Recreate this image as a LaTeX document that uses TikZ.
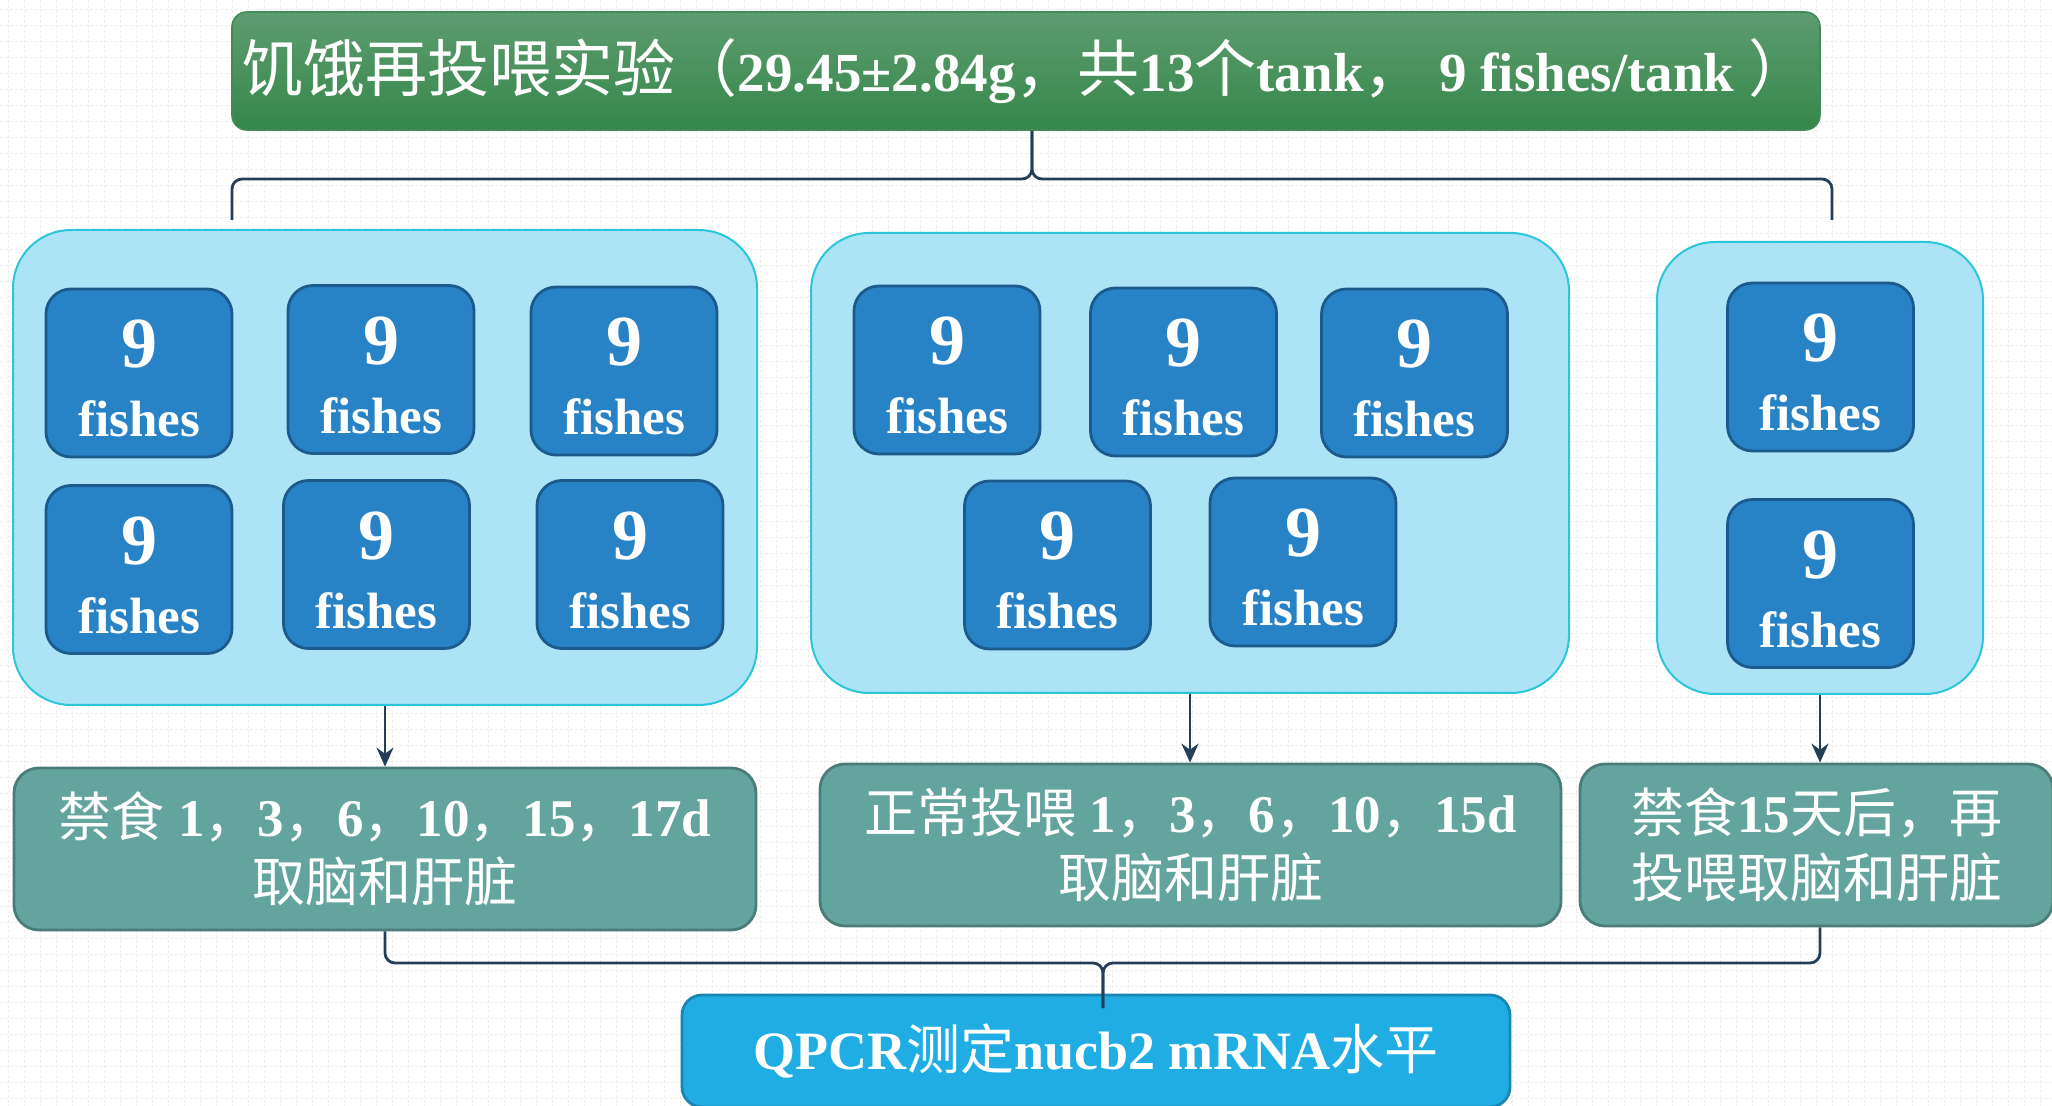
\documentclass[tikz,border=0pt]{standalone}
\usepackage{fontspec}
\setmainfont{Liberation Serif}
\newfontfamily\cjk{Noto Sans CJK SC}
\usetikzlibrary{arrows.meta,calc}
\definecolor{titletop}{HTML}{5E9C71}
\definecolor{titlebot}{HTML}{35874A}
\definecolor{titleborder}{HTML}{3F8A57}
\definecolor{groupfill}{HTML}{A6E2F6}
\definecolor{groupborder}{HTML}{2BC6D9}
\definecolor{fishfill}{HTML}{2782C6}
\definecolor{fishborder}{HTML}{1D5A8C}
\definecolor{phasefill}{HTML}{64A49E}
\definecolor{phaseborder}{HTML}{4A7C79}
\definecolor{qfill}{HTML}{1FADE3}
\definecolor{qborder}{HTML}{1985B3}
\definecolor{linecol}{HTML}{253E57}
\definecolor{gridcol}{HTML}{EEEEEE}
\newcommand\zh[1]{{\cjk\mdseries #1}}
\newcommand\zhT[1]{{\cjk\mdseries\fontsize{31}{36}\selectfont #1}}
\newcommand\fish[3]{%
  \node[fishbox] (#1) at (#2,#3) {};
  \node[fishnum] (#1n) at ($(#1.center)+(0,-5)$) {9};
  \node[fishlbl] (#1l) at ($(#1.center)+(0,64)$) {fishes};
}
\begin{document}
\begin{tikzpicture}[x=0.5pt,y=-0.5pt,
  titlebox/.style={rounded corners=7.5pt, draw=titleborder, line width=0.8pt,
    top color=titletop, bottom color=titlebot, minimum width=794pt, minimum height=59pt,
    inner sep=0pt, text=white, font=\bfseries\fontsize{27.5}{30}\selectfont},
  group/.style={rounded corners=29pt, draw=groupborder, fill=groupfill, fill opacity=0.93,
    line width=1pt, inner sep=0pt},
  fishbox/.style={rounded corners=12.5pt, draw=fishborder, fill=fishfill, line width=1.4pt,
    minimum width=93pt, minimum height=84pt, inner sep=0pt},
  fishnum/.style={text=white, font=\bfseries\fontsize{36}{36}\selectfont, anchor=base, inner sep=0pt},
  fishlbl/.style={text=white, font=\bfseries\fontsize{25.5}{26}\selectfont, anchor=base, inner sep=0pt},
  phase/.style={rounded corners=12.5pt, draw=phaseborder, fill=phasefill, line width=1.4pt,
    minimum height=81pt, inner sep=0pt, text=white, align=center,
    font=\bfseries\fontsize{26.5}{32.5}\selectfont},
  qpcr/.style={rounded corners=10pt, draw=qborder, fill=qfill, line width=1.4pt,
    minimum width=414pt, minimum height=56pt, inner sep=0pt, text=white,
    font=\bfseries\fontsize{27}{30}\selectfont},
  brace/.style={draw=linecol, line width=1.4pt, rounded corners=5pt},
  arr/.style={draw=linecol, line width=1.2pt, -{Stealth[length=9.5pt,width=8.5pt]}}
]
\useasboundingbox (0,0) rectangle (2052,1106);
\clip (0,0) rectangle (2052,1106);
\fill[white] (0,0) rectangle (2052,1106);
\foreach \yy in {10,26,...,1106} {\draw[gridcol, line width=0.5pt, dash pattern=on 1.5pt off 1pt] (0,\yy) -- (2052,\yy);}
\foreach \xx in {8,24,...,2052} {\draw[gridcol, line width=0.5pt, dash pattern=on 1.5pt off 1pt] (\xx,0) -- (\xx,1106);}

% title
\node[titlebox] (title) at (1026,71)
  {\zhT{饥饿再投喂实验（}29.45±2.84g\zhT{，共}13\zhT{个}tank\zhT{，} 9 fishes/tank \zhT{）}};

% groups
\node[group, minimum width=372pt, minimum height=237.5pt] (G1) at (385,467.5) {};
\node[group, minimum width=379pt, minimum height=230pt] (G2) at (1190,463) {};
\node[group, minimum width=163pt, minimum height=226pt] (G3) at (1820,468) {};

% fish boxes
\fish{g1a}{139}{373}
\fish{g1b}{381}{369.5}
\fish{g1c}{624}{371}
\fish{g1d}{139}{569.5}
\fish{g1e}{376.5}{564.5}
\fish{g1f}{630}{564.5}
\fish{g2a}{947}{370}
\fish{g2b}{1183.5}{372}
\fish{g2c}{1414.5}{373}
\fish{g2d}{1057.5}{565}
\fish{g2e}{1303}{562}
\fish{g3a}{1820.5}{367}
\fish{g3b}{1820.5}{583.5}

% phase boxes
\node[phase, minimum width=371pt] (P1) at (385,849)
  {\zh{禁食} 1\zh{，}3\zh{，}6\zh{，}10\zh{，}15\zh{，}17d\\\zh{取脑和肝脏}};
\node[phase, minimum width=370.5pt] (P2) at (1190.5,845)
  {\zh{正常投喂} 1\zh{，}3\zh{，}6\zh{，}10\zh{，}15d\\\zh{取脑和肝脏}};
\node[phase, minimum width=236.5pt] (P3) at (1816.5,845)
  {\zh{禁食}15\zh{天后，再}\\\zh{投喂取脑和肝脏}};

% qpcr
\node[qpcr] (Q) at (1096,1051) {QPCR\zh{测定}nucb2 mRNA\zh{水平}};

% top brace
\coordinate (tl) at (232,220);
\coordinate (tr) at (1832,220);
\coordinate (tc) at (1032,179);
\draw[brace] (tl) |- (tc) -- (tc |- title.south);
\draw[brace] (tr) |- (tc) -- (tc |- title.south);

% arrows
\draw[arr] (G1.south) -- (P1.north);
\draw[arr] (G2.south) -- (G2.south |- P2.north);
\draw[arr] (G3.south) -- (G3.south |- P3.north);

% bottom brace
\coordinate (bc) at (1103,963);
\coordinate (bq) at (1103,1008);
\draw[brace] (P1.south) |- (bc) -- (bq);
\draw[brace] (G3.south |- P3.south) |- (bc) -- (bq);
\end{tikzpicture}
\end{document}
